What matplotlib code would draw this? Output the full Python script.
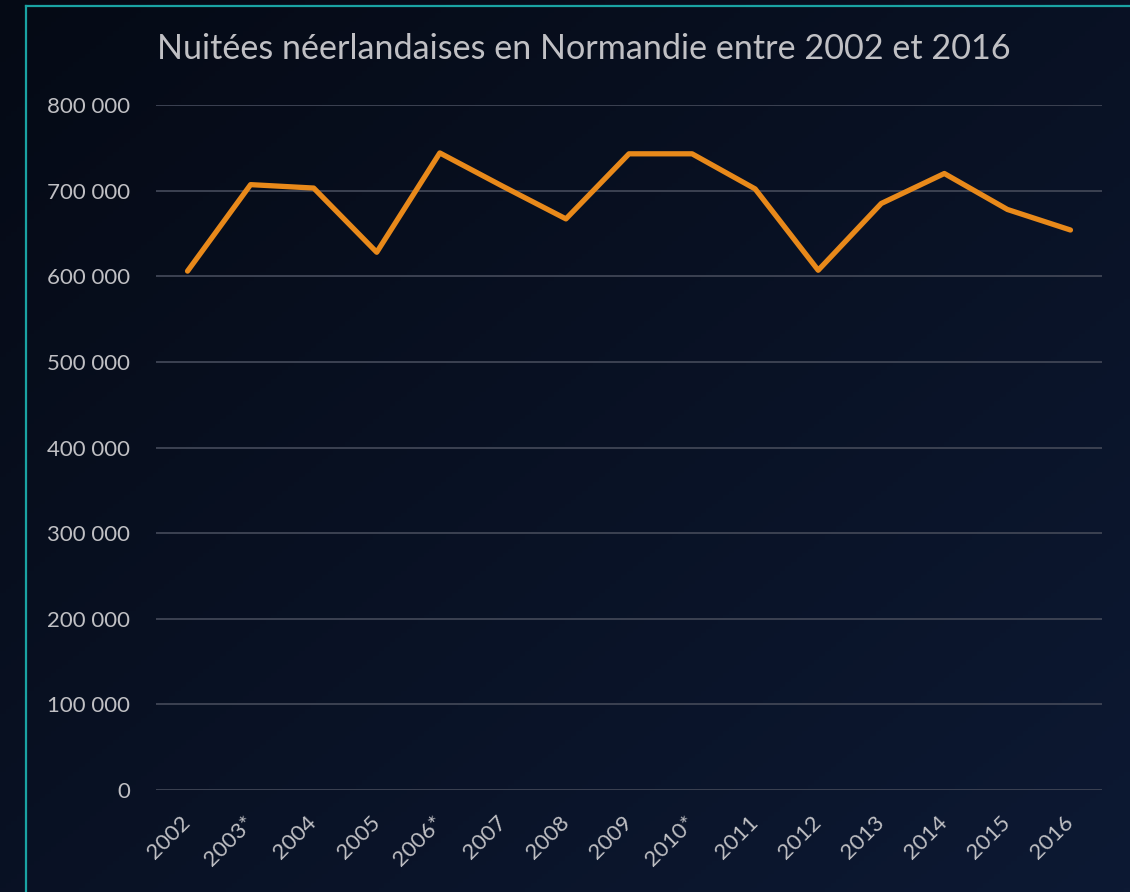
"""
Nuitées néerlandaises en Normandie, 2002-2016 - line chart on a dark slide.
"""
import numpy as np
import matplotlib
matplotlib.use("Agg")
import matplotlib.pyplot as plt
from matplotlib.lines import Line2D
from matplotlib.ticker import FuncFormatter

# -- Data ----------------------------------------------------------------------
YEARS  = ["2002", "2003*", "2004", "2005", "2006*", "2007", "2008", "2009",
          "2010*", "2011", "2012", "2013", "2014", "2015", "2016"]
NIGHTS = [606000, 707000, 703000, 628000, 744000, 705000, 667000, 743000,
          743000, 702000, 607000, 685000, 720000, 678000, 654000]
TITLE  = "Nuitées néerlandaises en Normandie entre 2002 et 2016"

TEXT  = "#c0c0c4"
GRID  = "#3c4252"
LINE  = "#e8891a"
TEAL  = "#1aa3a3"

plt.rcParams["font.family"] = ["Lato", "DejaVu Sans"]

fig = plt.figure(figsize=(11.3, 8.92), dpi=100)

# -- Background gradient -------------------------------------------------------
bg = fig.add_axes([0, 0, 1, 1], zorder=-10)
gx, gy = np.meshgrid(np.linspace(0, 1, 200), np.linspace(0, 1, 200))
t = (gx + gy) / 2
c0 = np.array([0x05, 0x0a, 0x15]) / 255
c1 = np.array([0x0d, 0x19, 0x33]) / 255
img = c0[None, None, :] * (1 - t[..., None]) + c1[None, None, :] * t[..., None]
bg.imshow(img, aspect="auto", extent=[0, 1, 0, 1], origin="upper")
bg.set_axis_off()

# teal frame (only top and left edges are visible)
fig.add_artist(Line2D([26 / 1130, 26 / 1130], [0, 1 - 6 / 892],
                      color=TEAL, lw=1.6, transform=fig.transFigure))
fig.add_artist(Line2D([26 / 1130, 1], [1 - 6 / 892, 1 - 6 / 892],
                      color=TEAL, lw=1.6, transform=fig.transFigure))

# -- Chart ---------------------------------------------------------------------
ax = fig.add_axes([156 / 1130, 1 - 790 / 892, 946 / 1130, 685 / 892])
ax.set_facecolor("none")
x = np.arange(len(YEARS))
ax.plot(x, NIGHTS, color=LINE, lw=3.8, solid_joinstyle="round",
        solid_capstyle="round", zorder=3)

ax.set_xlim(-0.5, len(YEARS) - 0.5)
ax.set_ylim(0, 800000)
ax.set_yticks(np.arange(0, 800001, 100000))
ax.yaxis.set_major_formatter(
    FuncFormatter(lambda v, _: f"{int(v):,}".replace(",", " ")))
ax.set_xticks(x)
ax.set_xticklabels(YEARS, rotation=45, ha="right", va="center",
                   rotation_mode="anchor")
ax.grid(axis="y", color=GRID, lw=1.4)
ax.set_axisbelow(True)
ax.tick_params(axis="both", length=0, colors=TEXT, labelsize=16)
ax.tick_params(axis="y", pad=18.5)
ax.tick_params(axis="x", pad=21)
for s in ax.spines.values():
    s.set_visible(False)

fig.text(157 / 1130, 1 - 49 / 892, TITLE, color=TEXT, fontsize=24.6,
         ha="left", va="center")

plt.savefig("out.png", dpi=100, facecolor=fig.get_facecolor())
